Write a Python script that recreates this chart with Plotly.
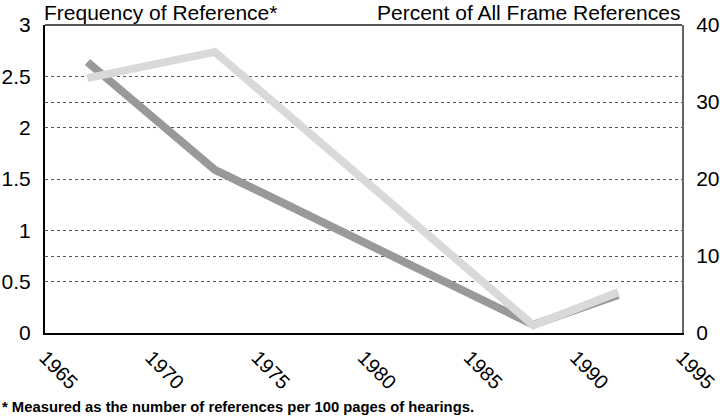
import plotly.graph_objects as go # plotly graph objects

# data
years = [1967, 1973, 1988, 1992] # x positions of the points
frequency = [2.64, 1.59, 0.08, 0.37] # frequency of reference (left axis)
percent = [33.1, 36.5, 1.0, 5.3] # percent of all frame references (right axis)
x_ticks = [1965, 1970, 1975, 1980, 1985, 1990, 1995] # x tick labels

FONT = "Arial, Liberation Sans, sans-serif" # font family

fig = go.Figure() # figure

fig.add_trace(go.Scatter( # light gray line on right axis
    x=years, y=percent, mode="lines", yaxis="y2",
    line=dict(color="#d9d9d9", width=8), showlegend=False
))
fig.add_trace(go.Scatter( # dark gray line on left axis
    x=years, y=frequency, mode="lines",
    line=dict(color="#999999", width=8), showlegend=False
))

fig.update_layout( # layout
    width=720, height=417,
    margin=dict(l=45, r=38, t=25, b=84),
    paper_bgcolor="white", plot_bgcolor="white",
    font=dict(family=FONT, size=21, color="black"),
    xaxis=dict(
        range=[1965, 1995], tickvals=x_ticks, tickangle=45,
        showgrid=False, zeroline=False, automargin=False,
        showline=True, linecolor="black", linewidth=2,
        ticks="", ticklabelstandoff=3, tickfont=dict(size=20)
    ),
    yaxis=dict(
        range=[0, 3], tickvals=[0, 0.5, 1, 1.5, 2, 2.5, 3],
        ticktext=["0", "0.5", "1", "1.5", "2", "2.5", "3"],
        showgrid=True, gridcolor="#555555", gridwidth=1, griddash="dot",
        zeroline=False, showline=True, linecolor="black", linewidth=2,
        automargin=False, ticklabelstandoff=8,
        ticks="", tickfont=dict(size=21)
    ),
    yaxis2=dict(
        range=[0, 40], tickvals=[0, 10, 20, 30, 40], overlaying="y", side="right",
        showgrid=True, gridcolor="#555555", gridwidth=1, griddash="dot",
        zeroline=False, showline=True, linecolor="#666666", linewidth=2,
        automargin=False, ticklabelstandoff=8,
        ticks="", tickfont=dict(size=21)
    ),
    shapes=[dict( # top border of the plot box
        type="line", xref="paper", yref="paper", x0=0, x1=1, y0=1, y1=1,
        line=dict(color="#555555", width=2)
    )],
    annotations=[
        dict(text="Frequency of Reference*", xref="paper", yref="paper",
             x=-0.005, y=1.0, xanchor="left", yanchor="bottom", yshift=-1,
             showarrow=False, font=dict(size=21)),
        dict(text="Percent of All Frame References", xref="paper", yref="paper",
             x=1.0, y=1.0, xanchor="right", yanchor="bottom", yshift=-1,
             showarrow=False, font=dict(size=21)),
        dict(text="<b>* Measured as the number of references per 100 pages of hearings.</b>",
             xref="paper", yref="paper", x=-0.071, y=0, yshift=-74,
             xanchor="left", yanchor="middle", showarrow=False,
             font=dict(size=14.8)),
    ]
)

# page body has a default margin, drop it so the figure fills the window
fig.write_html("out.html", config={"displayModeBar": False},
               post_script="document.body.style.margin='0';")
